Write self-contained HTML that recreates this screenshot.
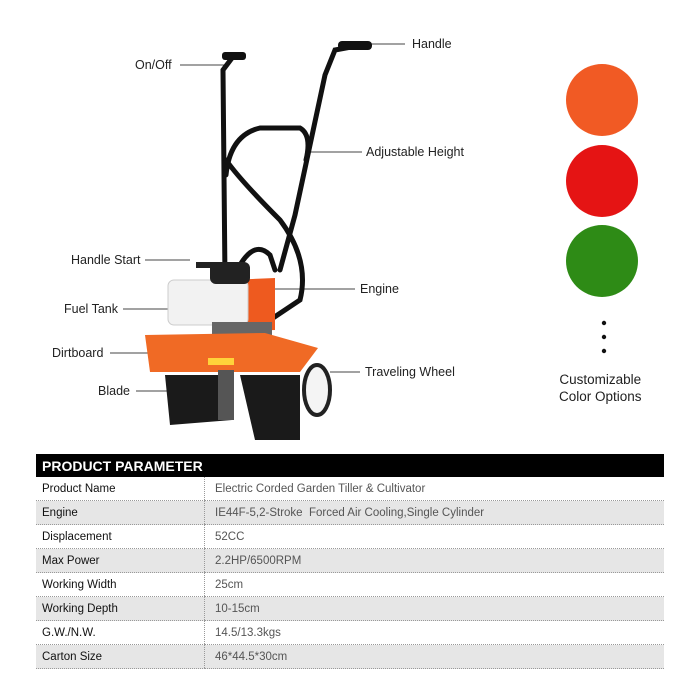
<!DOCTYPE html>
<html><head><meta charset="utf-8"><style>
body{margin:0;width:700px;height:700px;background:#fff;position:relative;overflow:hidden;font-family:"Liberation Sans",sans-serif}
.l{position:absolute;font-size:12.5px;color:#222;white-space:nowrap}
table{position:absolute;left:36px;top:454px;width:628px;border-collapse:collapse;font-size:11.5px}
td{height:23px;padding:0 0 0 6px;border-bottom:1px dotted #999;color:#111}
td+td{border-left:1px dotted #999;color:#555;padding-left:10px}
tr.g td{background:#e6e6e6}
th{background:#000;color:#fff;text-align:left;font-size:14px;height:21px;padding-left:6px;font-weight:bold}
</style></head><body>
<svg width="700" height="450" style="position:absolute;left:0;top:0">
<g stroke="#444" stroke-width="1" fill="none">
<line x1="180" y1="65" x2="225" y2="65"/><line x1="370" y1="44" x2="405" y2="44"/>
<line x1="305" y1="152" x2="362" y2="152"/><line x1="145" y1="260" x2="190" y2="260"/>
<line x1="268" y1="289" x2="355" y2="289"/><line x1="123" y1="309" x2="185" y2="309"/>
<line x1="110" y1="353" x2="170" y2="353"/><line x1="330" y1="372" x2="360" y2="372"/>
<line x1="136" y1="391" x2="172" y2="391"/>
</g>
<g stroke="#111" stroke-width="5" fill="none" stroke-linecap="round">
<path d="M232 58 L223 70 L225 280"/>
<path d="M362 45 L335 50 L325 75 L295 215 L280 270"/>
<path d="M226 175 Q230 135 260 128 L300 128 Q312 135 306 160"/>
<path d="M226 160 Q240 180 280 220 Q310 260 300 300 L270 320"/>
<path d="M240 265 Q255 240 270 255 L275 270"/>
</g>
<rect x="338" y="41" width="34" height="9" rx="4" fill="#111"/>
<rect x="222" y="52" width="24" height="8" rx="3" fill="#111"/>
<path d="M230 280 L275 278 L275 330 L230 332Z" fill="#ee5a1f"/>
<rect x="168" y="280" width="80" height="45" rx="6" fill="#f2f2f2" stroke="#ccc"/>
<rect x="210" y="262" width="40" height="22" rx="6" fill="#222"/>
<rect x="196" y="262" width="24" height="6" fill="#222"/>
<rect x="212" y="322" width="60" height="20" fill="#666"/>
<path d="M145 335 L265 333 L318 348 L300 372 L150 372Z" fill="#f06a25"/>
<rect x="208" y="358" width="26" height="7" fill="#ffd23a"/>
<g fill="#1a1a1a">
<path d="M165 375 L230 375 L232 420 L170 425Z"/>
<path d="M240 375 L300 375 L300 440 L255 440Z"/>
</g>
<rect x="218" y="370" width="16" height="50" fill="#555"/>
<ellipse cx="317" cy="390" rx="13" ry="25" fill="#f4f4f4" stroke="#222" stroke-width="4"/>
<circle cx="602" cy="100" r="36" fill="#f15a24"/>
<circle cx="602" cy="181" r="36" fill="#e51414"/>
<circle cx="602" cy="261" r="36" fill="#2e8b16"/>
<circle cx="604" cy="323" r="2.2" fill="#111"/><circle cx="604" cy="337" r="2.2" fill="#111"/><circle cx="604" cy="351" r="2.2" fill="#111"/>
</svg>
<div class="l" style="left:135px;top:58px">On/Off</div>
<div class="l" style="left:412px;top:37px">Handle</div>
<div class="l" style="left:366px;top:145px">Adjustable Height</div>
<div class="l" style="left:71px;top:253px">Handle Start</div>
<div class="l" style="left:360px;top:282px">Engine</div>
<div class="l" style="left:64px;top:302px">Fuel Tank</div>
<div class="l" style="left:52px;top:346px">Dirtboard</div>
<div class="l" style="left:365px;top:365px">Traveling Wheel</div>
<div class="l" style="left:98px;top:384px">Blade</div>
<div class="l" style="left:559px;top:371px;font-size:13.5px;text-align:center;line-height:17px">Customizable<br>Color Options</div>
<table>
<tr><th colspan="2">PRODUCT PARAMETER</th></tr>
<tr><td style="width:162px">Product Name</td><td>Electric Corded Garden Tiller &amp; Cultivator</td></tr>
<tr class="g"><td>Engine</td><td>IE44F-5,2-Stroke&nbsp; Forced Air Cooling,Single Cylinder</td></tr>
<tr><td>Displacement</td><td>52CC</td></tr>
<tr class="g"><td>Max Power</td><td>2.2HP/6500RPM</td></tr>
<tr><td>Working Width</td><td>25cm</td></tr>
<tr class="g"><td>Working Depth</td><td>10-15cm</td></tr>
<tr><td>G.W./N.W.</td><td>14.5/13.3kgs</td></tr>
<tr class="g"><td>Carton Size</td><td>46*44.5*30cm</td></tr>
</table>
</body></html>
